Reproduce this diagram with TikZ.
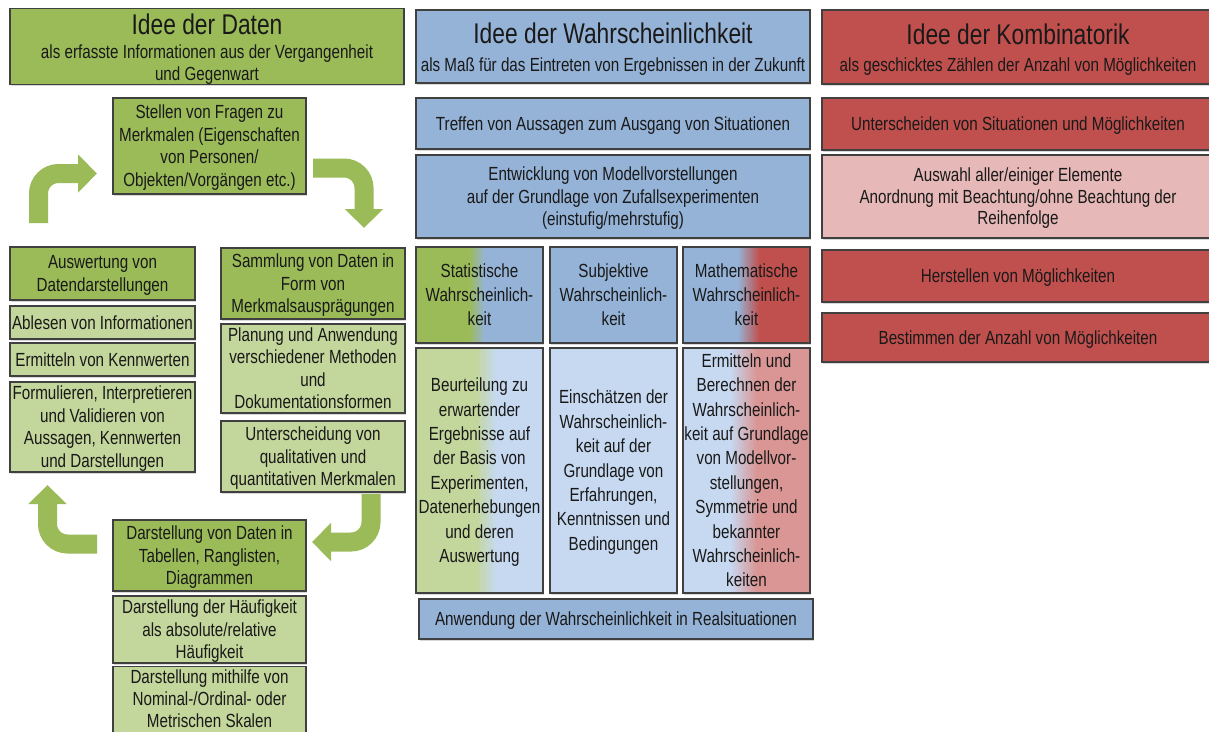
\documentclass[tikz,border=0pt]{standalone}
\usepackage{fontspec}
\setmainfont{Liberation Sans}[FakeStretch=0.8]
\XeTeXuseglyphmetrics=0
\usetikzlibrary{arrows.meta,shadows}

\definecolor{grdark}{HTML}{9BBB59}
\definecolor{grlight}{HTML}{C3D69B}
\definecolor{bldark}{HTML}{95B3D7}
\definecolor{bllight}{HTML}{C6D9F1}
\definecolor{rddark}{HTML}{C0504D}
\definecolor{rdlight}{HTML}{E6B9B8}
\definecolor{rdmid}{HTML}{D99694}

\newcommand\ttlfont{\fontsize{28.5}{30}\selectfont}
\newcommand\subfont{\fontsize{19}{21}\selectfont}
\newcommand\itemfont{\fontsize{19}{22.5}\selectfont}
\newcommand\tallfont{\fontsize{19}{24.4}\selectfont}

% colour blends of the three middle columns
\pgfdeclarehorizontalshading{statTop}{100bp}{color(0bp)=(grdark); color(46bp)=(grdark); color(52bp)=(bldark); color(100bp)=(bldark)}
\pgfdeclarehorizontalshading{mathTop}{100bp}{color(0bp)=(bldark); color(46.5bp)=(bldark); color(55bp)=(rddark); color(100bp)=(rddark)}
\pgfdeclarehorizontalshading{statLow}{100bp}{color(0bp)=(grlight); color(48.5bp)=(grlight); color(56.5bp)=(bllight); color(100bp)=(bllight)}
\pgfdeclarehorizontalshading{mathLow}{100bp}{color(0bp)=(bllight); color(43.5bp)=(bllight); color(54bp)=(rdmid); color(100bp)=(rdmid)}

\begin{document}
\begin{tikzpicture}[x=1pt,y=-1pt,
  box/.style={draw=black!75,line width=1.1pt,inner sep=0pt,align=center,text=black!90,font=\itemfont,
    drop shadow={shadow xshift=1.2pt,shadow yshift=-1.5pt,opacity=0.3}},
  boxsize/.style 2 args={minimum width=#1pt,minimum height=#2pt},
  tallbox/.style={box,font=\tallfont},
  greenbox/.style={box,fill=grdark}, greenlight/.style={box,fill=grlight},
  bluebox/.style={box,fill=bldark}, bluelight/.style={box,fill=bllight},
  redbox/.style={box,fill=rddark}, redlight/.style={box,fill=rdlight},
  bentarrow/.style={draw=grdark,line width=19pt,rounded corners=20pt,-{Triangle[length=19pt,width=37pt]}}]
\path[fill=white,use as bounding box] (0,0) rectangle (1209,731);

%Daten
\node[greenbox,boxsize={394}{73},font=\subfont] (daten) at (207,46.5) {{\ttlfont Idee der Daten}\\als erfasste Informationen aus der Vergangenheit\\und Gegenwart};
\node[greenbox,boxsize={193}{96}] (fragen) at (209.5,146) {Stellen von Fragen zu\\Merkmalen (Eigenschaften\\von Personen/\\Objekten/Vorgängen etc.)};
\node[greenbox,boxsize={185}{53}] (auswertung) at (102.5,273.5) {Auswertung von\\Datendarstellungen};
\node[greenlight,boxsize={185}{33}] (ablesen) at (102.5,322.5) {Ablesen von Informationen};
\node[greenlight,boxsize={185}{33}] (kennwerte) at (102.5,359.5) {Ermitteln von Kennwerten};
\node[greenlight,boxsize={185}{90}] (formulieren) at (102.5,427) {Formulieren, Interpretieren\\und Validieren von\\Aussagen, Kennwerten\\und Darstellungen};
\node[greenbox,boxsize={184}{71}] (sammlung) at (313,283.5) {Sammlung von Daten in\\Form von\\Merkmalsausprägungen};
\node[greenlight,boxsize={184}{89}] (planung) at (313,368.5) {Planung und Anwendung\\verschiedener Methoden\\und\\Dokumentationsformen};
\node[greenlight,boxsize={184}{71}] (merkmale) at (313,456.5) {Unterscheidung von\\qualitativen und\\quantitativen Merkmalen};
\node[greenbox,boxsize={193}{71}] (darstellung) at (209.5,555.5) {Darstellung von Daten in\\Tabellen, Ranglisten,\\Diagrammen};
\node[greenlight,boxsize={193}{67}] (haeufigkeit) at (209.5,629.5) {Darstellung der Häufigkeit\\als absolute/relative\\Häufigkeit};
% runs past the lower edge
\node[greenlight,boxsize={193}{60},font=\fontsize{19}{20.5}\selectfont] (skalen) at (209.5,702.9) {Darstellung mithilfe von\\Nominal-/Ordinal- oder\\Metrischen Skalen\rule[-12pt]{0pt}{0pt}};

%cycle arrows
\coordinate (cA0) at (38.5,223);  \coordinate (cA1) at (97,173.5);
\coordinate (cB0) at (313,168);   \coordinate (cB1) at (364,228);
\coordinate (cC0) at (97,544);    \coordinate (cC1) at (47.5,485);
\coordinate (cD0) at (371,494);   \coordinate (cD1) at (312,542);
\draw[bentarrow] (cA0) |- (cA1);
\draw[bentarrow] (cB0) -| (cB1);
\draw[bentarrow] (cC0) -| (cC1);
\draw[bentarrow] (cD0) |- (cD1);

%Wahrscheinlichkeit
\node[bluebox,boxsize={394}{73},font=\subfont] (wahr) at (613,46.5) {{\ttlfont Idee der Wahrscheinlichkeit}\\[4pt]als Maß für das Eintreten von Ergebnissen in der Zukunft};
\node[bluebox,boxsize={394}{51}] (treffen) at (613,123.5) {Treffen von Aussagen zum Ausgang von Situationen};
\node[bluebox,boxsize={394}{83}] (modell) at (613,196.5) {Entwicklung von Modellvorstellungen\\auf der Grundlage von Zufallsexperimenten\\(einstufig/mehrstufig)};
\node[tallbox,shading=statTop,boxsize={127}{96}] (stat) at (479.5,295) {Statistische\\Wahrscheinlich-\\keit};
\node[tallbox,fill=bldark,boxsize={127}{96}] (subj) at (613.5,295) {Subjektive\\Wahrscheinlich-\\keit};
\node[tallbox,shading=mathTop,boxsize={127}{96}] (math) at (746.5,295) {Mathematische\\Wahrscheinlich-\\keit};
\node[tallbox,shading=statLow,boxsize={127}{245}] (beurteilung) at (479.5,470.5) {Beurteilung zu\\erwartender\\Ergebnisse auf\\der Basis von\\Experimenten,\\Datenerhebungen\\und deren\\Auswertung};
\node[tallbox,fill=bllight,boxsize={127}{245}] (einschaetzen) at (613.5,470.5) {Einschätzen der\\Wahrscheinlich-\\keit auf der\\Grundlage von\\Erfahrungen,\\Kenntnissen und\\Bedingungen};
\node[tallbox,shading=mathLow,boxsize={127}{245}] (berechnen) at (746.5,470.5) {Ermitteln und\\Berechnen der\\Wahrscheinlich-\\keit auf Grundlage\\von Modellvor-\\stellungen,\\Symmetrie und\\bekannter\\Wahrscheinlich-\\keiten};
\node[bluebox,boxsize={394}{40}] (anwendung) at (616,619) {Anwendung der Wahrscheinlichkeit in Realsituationen};

%Kombinatorik
\node[redbox,boxsize={392}{74},font=\subfont] (kombi) at (1018,47) {{\ttlfont Idee der Kombinatorik}\\[2pt]als geschicktes Zählen der Anzahl von Möglichkeiten};
\node[redbox,boxsize={392}{52}] (unterscheiden) at (1018,124) {Unterscheiden von Situationen und Möglichkeiten};
\node[redlight,boxsize={392}{83},font=\fontsize{19}{21.3}\selectfont] (auswahl) at (1018,196.5) {Auswahl aller/einiger Elemente\\Anordnung mit Beachtung/ohne Beachtung der\\Reihenfolge};
\node[redbox,boxsize={392}{52}] (herstellen) at (1018,276) {Herstellen von Möglichkeiten};
\node[redbox,boxsize={392}{49}] (bestimmen) at (1018,337.5) {Bestimmen der Anzahl von Möglichkeiten};
\end{tikzpicture}
\end{document}
